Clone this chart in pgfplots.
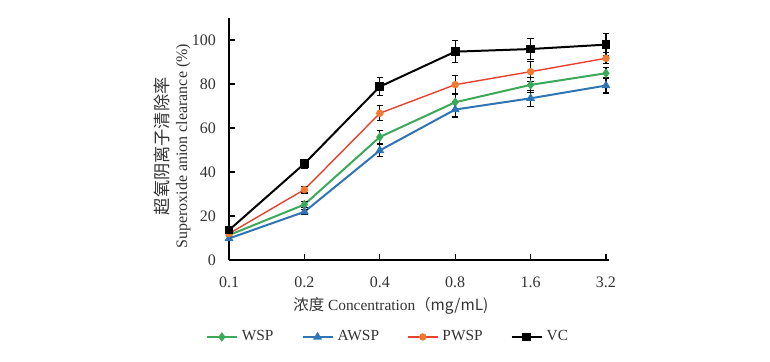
\documentclass[border=0pt]{standalone}
\usepackage{pgfplots}
\pgfplotsset{compat=1.18}
\usepackage{pgfplotstable}
\usepackage{fontspec}
\setmainfont{Liberation Serif}
\newfontfamily\cjk{Noto Sans CJK SC}
\definecolor{cgreen}{HTML}{3CA85A}
\definecolor{cblue}{HTML}{2F74B5}
\definecolor{cred}{HTML}{E8412F}
\definecolor{corange}{HTML}{F07A30}

\pgfplotstableread{
x y e
0 11.3 1.0
1 25.2 1.5
2 55.9 3.0
3 71.7 3.5
4 79.6 3.5
5 84.9 2.5
}\wsp
\pgfplotstableread{
x y e
0 9.8 1.0
1 21.9 1.0
2 49.8 2.6
3 68.4 3.4
4 73.5 3.6
5 79.3 3.4
}\awsp
\pgfplotstableread{
x y e
0 12.0 1.0
1 32.0 1.5
2 66.7 3.4
3 79.7 4.2
4 85.6 4.5
5 91.7 2.5
}\pwsp
\pgfplotstableread{
x y e
0 13.6 1.0
1 43.8 2.0
2 78.8 4.0
3 94.7 4.9
4 95.9 4.9
5 97.9 4.9
}\vc

\begin{document}
\begin{tikzpicture}[x=1pt,y=1pt]
\useasboundingbox (0,0) rectangle (385,180.5);
\begin{axis}[
  at={(114.5pt,50.5pt)}, anchor=south west,
  scale only axis, width=190pt, height=121pt,
  xmin=0, xmax=5.04, ymin=0, ymax=110,
  axis x line*=bottom, axis y line*=left,
  xtick={0,...,5}, xticklabels={0.1,0.2,0.4,0.8,1.6,3.2},
  ytick={0,20,...,100},
  tick align=inside,
  major tick length=3pt,
  tick style={black, line width=0.6pt},
  axis line style={black, line width=0.8pt},
  ticklabel style={font=\fontsize{8}{9}\selectfont, text=black!80},
  /pgf/number format/assume math mode=true,
  xticklabel shift=5pt,
  yticklabel shift=3pt,
  ylabel={{\cjk\fontsize{8.6}{9.5}\selectfont 超氧阴离子清除率}\\Superoxide anion clearance (\%)},
  ylabel style={at={(axis description cs:-0.15,0.47)}, anchor=center, align=center,
    font=\fontsize{8}{9.5}\selectfont, text=black!80},
  xlabel={{\cjk 浓度} Concentration{\cjk （mg/mL)}},
  xlabel style={at={(axis description cs:0.426,-0.19)}, anchor=center,
    font=\fontsize{7.7}{9}\selectfont, text=black!80},
  legend style={at={(axis description cs:0.421,-0.318)}, anchor=center, draw=none,
    fill=none, font=\fontsize{7.7}{9}\selectfont, text=black!80,
    /tikz/every even column/.append style={column sep=12pt}},
  legend columns=4,
  legend image code/.code={\draw[mark repeat=2,mark phase=2] plot coordinates {(0pt,0pt) (7.5pt,0pt) (15pt,0pt)};},
  error bars/error bar style={black, line width=0.6pt},
  error bars/error mark options={rotate=90, mark size=1.6pt, black, line width=0.6pt},
]
\addplot[cgreen, line width=1pt, mark=diamond*, mark size=1.6pt, mark options={fill=cgreen}, error bars/.cd, y dir=both, y explicit]
  table[x=x, y=y, y error=e] {\wsp};
\addlegendentry{WSP}
\addplot[cblue, line width=1pt, mark=triangle*, mark size=1.6pt, mark options={fill=cblue}, error bars/.cd, y dir=both, y explicit]
  table[x=x, y=y, y error=e] {\awsp};
\addlegendentry{AWSP}
\addplot[cred, line width=0.7pt, mark=*, mark size=1.5pt, mark options={fill=corange, draw=corange}, error bars/.cd, y dir=both, y explicit]
  table[x=x, y=y, y error=e] {\pwsp};
\addlegendentry{PWSP}
\addplot[black, line width=1pt, mark=square*, mark size=1.7pt, error bars/.cd, y dir=both, y explicit]
  table[x=x, y=y, y error=e] {\vc};
\addlegendentry{VC}
\end{axis}
\end{tikzpicture}
\end{document}
